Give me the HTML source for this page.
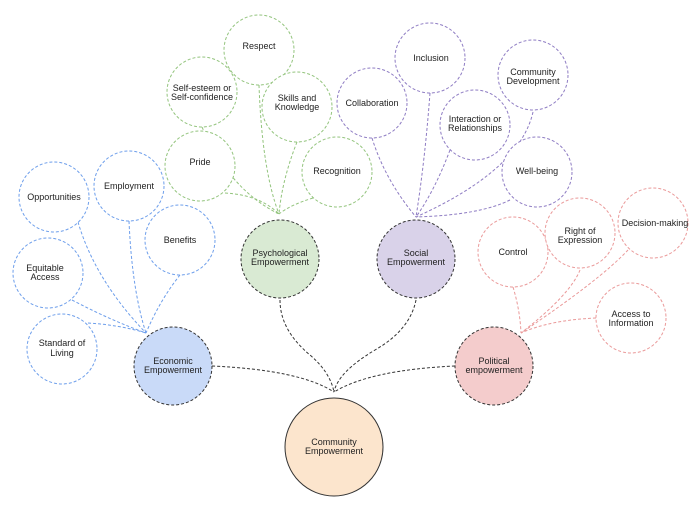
<!DOCTYPE html>
<html><head><meta charset="utf-8"><style>
html,body{margin:0;padding:0;background:#fff;}
svg{display:block;}
text{font-family:"Liberation Sans",Arial,sans-serif;font-size:9px;fill:#222;text-anchor:middle;}
</style></head><body>
<svg width="695" height="515" viewBox="0 0 695 515" xmlns="http://www.w3.org/2000/svg">
<g fill="none" stroke-width="1" stroke-dasharray="3,2">
<!-- blue edges to (146,333) -->
<g stroke="#6d9eeb">
<path d="M78 222 Q95 280 146 333"/>
<path d="M129 221 Q132 290 146 333"/>
<path d="M180 275 Q160 300 146 333"/>
<path d="M72 300 Q110 320 146 333"/>
<path d="M88 323 Q120 325 146 333"/>
</g>
<g stroke="#93c47d">
<path d="M202 127 Q230 190 279 214"/>
<path d="M259 85 Q262 170 279 214"/>
<path d="M297 142 Q282 180 279 214"/>
<path d="M225 193 Q260 195 279 214"/>
<path d="M313 198 Q290 205 279 214"/>
</g>
<g stroke="#8e7cc3">
<path d="M372 138 Q385 180 416 217"/>
<path d="M430 93 Q425 160 416 217"/>
<path d="M450 150 Q435 190 416 217"/>
<path d="M533 112 Q520 170 416 217"/>
<path d="M510 200 Q480 215 416 217"/>
</g>
<g stroke="#ea9999">
<path d="M513 287 Q520 310 521 333"/>
<path d="M580 270 Q570 295 521 333"/>
<path d="M628 250 Q600 280 521 333"/>
<path d="M596 318 Q550 320 521 333"/>
</g>
<g stroke="#333">
<path d="M280 300 Q280 330 310 355 Q330 372 334 392"/>
<path d="M416 300 Q410 330 375 350 Q338 372 334 392"/>
<path d="M212 366 Q300 370 334 392"/>
<path d="M455 366 Q370 370 334 392"/>
</g>
</g>
<g fill="#fff" stroke-width="1" stroke-dasharray="3,2">
<g stroke="#6d9eeb">
<circle cx="54" cy="197" r="35"/><circle cx="129" cy="186" r="35"/><circle cx="180" cy="240" r="35"/>
<circle cx="48" cy="273" r="35"/><circle cx="62" cy="349" r="35"/>
</g>
<g stroke="#93c47d">
<circle cx="259" cy="50" r="35"/><circle cx="202" cy="92" r="35"/><circle cx="297" cy="107" r="35"/>
<circle cx="200" cy="166" r="35"/><circle cx="337" cy="172" r="35"/>
</g>
<g stroke="#8e7cc3">
<circle cx="372" cy="103" r="35"/><circle cx="430" cy="58" r="35"/><circle cx="475" cy="125" r="35"/>
<circle cx="533" cy="75" r="35"/><circle cx="537" cy="172" r="35"/>
</g>
<g stroke="#ea9999">
<circle cx="513" cy="252" r="35"/><circle cx="580" cy="233" r="35"/><circle cx="653" cy="223" r="35"/><circle cx="631" cy="318" r="35"/>
</g>
<g stroke="#333">
<circle cx="173" cy="366" r="39" fill="#c9daf8"/>
<circle cx="280" cy="259" r="39" fill="#d9ead3"/>
<circle cx="416" cy="259" r="39" fill="#d9d2e9"/>
<circle cx="494" cy="366" r="39" fill="#f4cccc"/>
</g>
</g>
<circle cx="334" cy="447" r="49" fill="#fce5cd" stroke="#333" stroke-width="1"/>
<text x="54" y="200">Opportunities</text>
<text x="129" y="189">Employment</text>
<text x="180" y="243">Benefits</text>
<text x="45" y="271">Equitable</text><text x="45" y="280">Access</text>
<text x="62" y="346">Standard of</text><text x="62" y="356">Living</text>
<text x="259" y="49">Respect</text>
<text x="202" y="91">Self-esteem or</text><text x="202" y="100">Self-confidence</text>
<text x="297" y="101">Skills and</text><text x="297" y="110">Knowledge</text>
<text x="200" y="165">Pride</text>
<text x="337" y="174">Recognition</text>
<text x="372" y="106">Collaboration</text>
<text x="431" y="61">Inclusion</text>
<text x="475" y="122">Interaction or</text><text x="475" y="131">Relationships</text>
<text x="533" y="75">Community</text><text x="533" y="84">Development</text>
<text x="537" y="174">Well-being</text>
<text x="513" y="255">Control</text>
<text x="580" y="234">Right of</text><text x="580" y="243">Expression</text>
<text x="655" y="226">Decision-making</text>
<text x="631" y="317">Access to</text><text x="631" y="326">Information</text>
<text x="173" y="364">Economic</text><text x="173" y="373">Empowerment</text>
<text x="280" y="256">Psychological</text><text x="280" y="265">Empowerment</text>
<text x="416" y="256">Social</text><text x="416" y="265">Empowerment</text>
<text x="494" y="364">Political</text><text x="494" y="373">empowerment</text>
<text x="334" y="445">Community</text><text x="334" y="454">Empowerment</text>
</svg>
</body></html>
